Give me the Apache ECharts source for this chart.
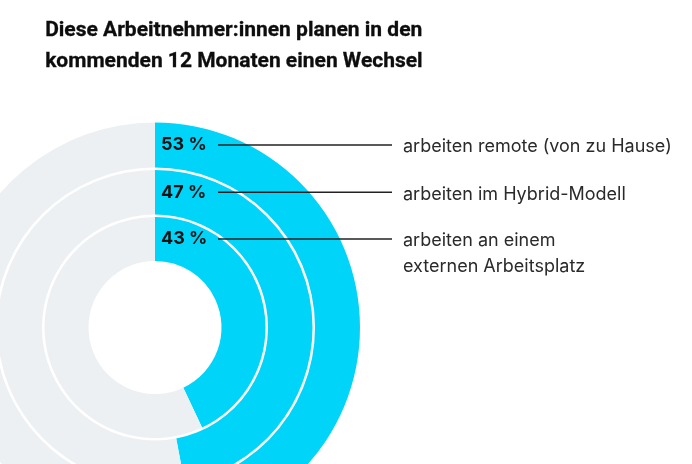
<!DOCTYPE html>
<html><head><meta charset="utf-8">
<script src="https://cdn.jsdelivr.net/npm/echarts@6/dist/echarts.min.js"></script>
<style>html,body{margin:0;padding:0;background:#fff}#c{width:692px;height:464px}</style>
</head><body><div id="c"></div>
<script>
const titleLines = ["Diese Arbeitnehmer:innen planen in den", "kommenden 12 Monaten einen Wechsel"];
const categories = ["arbeiten remote (von zu Hause)", "arbeiten im Hybrid-Modell", "arbeiten an einem\nexternen Arbeitsplatz"];
const values = [53, 47, 43];

const chart = echarts.init(document.getElementById('c'), null, {renderer: 'canvas'});
const cx = 155, cy = 327.5;
const rings = [[160, 205], [113, 157.5], [66.5, 110.5]];
const BLUE = '#00D5F9', GRAY = '#EDF0F3';

const series = values.map((v, i) => ({
  type: 'pie', center: [cx, cy], radius: rings[i], startAngle: 90, clockwise: true,
  silent: true, animation: false, label: {show: false}, labelLine: {show: false},
  emphasis: {disabled: true}, z: 1,
  data: [{value: v, itemStyle: {color: BLUE}}, {value: 100 - v, itemStyle: {color: GRAY}}]
}));

const graphic = [];
values.forEach((v, i) => {
  const y = cy - (rings[i][0] + rings[i][1]) / 2;
  graphic.push({type: 'text', z: 100, left: 161, top: y - 9, style: {text: v + ' %', font: 'bold 18px Inter', fill: '#111'}});
  graphic.push({type: 'line', z: 100, shape: {x1: 218, y1: y, x2: 392, y2: y}, style: {stroke: '#222', lineWidth: 1.5}});
  graphic.push({type: 'text', z: 100, left: 403, top: y - 11, style: {text: categories[i], font: '18px Inter', fill: '#2a2a2a', lineHeight: 26}});
});
graphic.push({type: 'text', z: 100, left: 45, top: 15, style: {text: titleLines.join('\n'), font: 'bold 21px Roboto', fill: '#0d0d0d', lineHeight: 31, stroke: '#0d0d0d', lineWidth: 0.3}});

chart.setOption({animation: false, series: series, graphic: graphic});
</script></body></html>
